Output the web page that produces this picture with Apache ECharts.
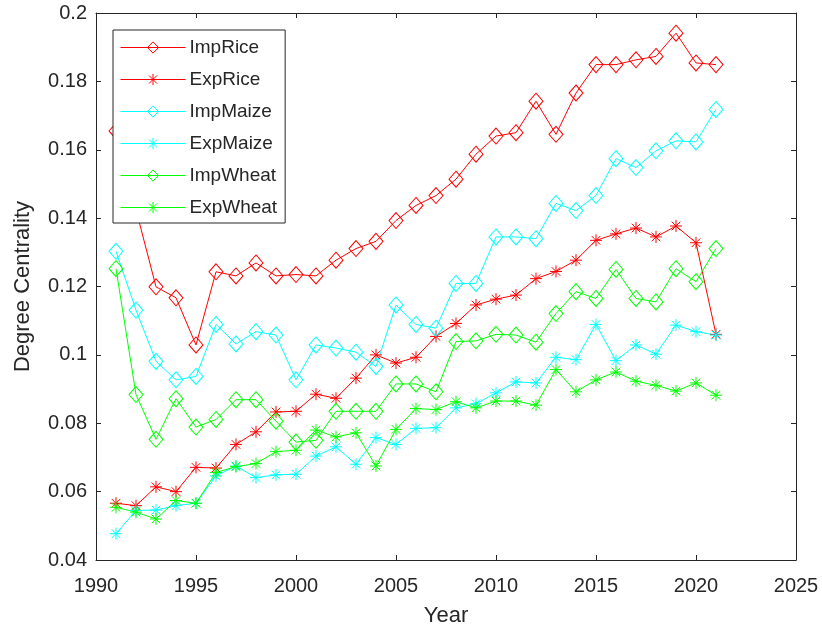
<!DOCTYPE html>
<html>
<head>
<meta charset="utf-8">
<script src="https://cdn.jsdelivr.net/npm/echarts@6/dist/echarts.min.js"></script>
<style>
  html, body { margin: 0; padding: 0; background: #fff; }
  #chart { width: 822px; height: 632px; }
</style>
</head>
<body>
<div id="chart"></div>
<script>
// Years covered by the degree-centrality series
const years = [1991,1992,1993,1994,1995,1996,1997,1998,1999,2000,2001,2002,2003,2004,2005,2006,2007,2008,2009,2010,2011,2012,2013,2014,2015,2016,2017,2018,2019,2020,2021];

const impRice  = [0.1655,0.1425,0.1199,0.1167,0.1029,0.1243,0.1231,0.1269,0.1231,0.1235,0.1231,0.1277,0.1311,0.1332,0.1393,0.1437,0.1466,0.1514,0.1587,0.1640,0.1650,0.1742,0.1645,0.1766,0.1849,0.1849,0.1863,0.1873,0.1941,0.1854,0.1849];
const expRice  = [0.0566,0.0559,0.0614,0.0600,0.0671,0.0669,0.0738,0.0775,0.0833,0.0835,0.0885,0.0873,0.0932,0.1000,0.0976,0.0993,0.1054,0.1092,0.1146,0.1163,0.1175,0.1223,0.1244,0.1277,0.1335,0.1354,0.1371,0.1345,0.1377,0.1328,0.1060];
const impMaize = [0.1303,0.1131,0.0981,0.0927,0.0937,0.1089,0.1032,0.1068,0.1058,0.0927,0.1029,0.1020,0.1008,0.0966,0.1146,0.1089,0.1078,0.1209,0.1209,0.1345,0.1345,0.1340,0.1443,0.1422,0.1466,0.1574,0.1548,0.1597,0.1626,0.1623,0.1718];
const expMaize = [0.0477,0.0545,0.0546,0.0559,0.0566,0.0646,0.0675,0.0641,0.0649,0.0651,0.0704,0.0731,0.0680,0.0758,0.0738,0.0785,0.0787,0.0845,0.0857,0.0889,0.0921,0.0918,0.0993,0.0986,0.1089,0.0983,0.1029,0.1002,0.1087,0.1068,0.1058];
const impWheat = [0.1252,0.0884,0.0753,0.0872,0.0789,0.0811,0.0869,0.0869,0.0806,0.0745,0.0750,0.0835,0.0835,0.0835,0.0915,0.0915,0.0892,0.1039,0.1041,0.1060,0.1058,0.1037,0.1121,0.1185,0.1165,0.1250,0.1165,0.1155,0.1252,0.1214,0.1311];
const expWheat = [0.0554,0.0540,0.0520,0.0574,0.0566,0.0656,0.0673,0.0682,0.0717,0.0721,0.0780,0.0760,0.0772,0.0675,0.0782,0.0843,0.0840,0.0863,0.0845,0.0865,0.0865,0.0853,0.0957,0.0892,0.0927,0.0950,0.0923,0.0911,0.0894,0.0918,0.0882];

const seriesNames = ['ImpRice','ExpRice','ImpMaize','ExpMaize','ImpWheat','ExpWheat'];
const seriesData  = [impRice, expRice, impMaize, expMaize, impWheat, expWheat];

const RED = '#ff0000', CYAN = '#00ffff', GREEN = '#00ff00';
const seriesColors = [RED, RED, CYAN, CYAN, GREEN, GREEN];

// Marker shapes: hollow diamond for imports, eight-point asterisk for exports
const DIAMOND = 'path://M0,-1L0.85,0L0,1L-0.85,0Z';
const STAR = 'path://M0,-1L0,1M-1,0L1,0M-0.72,-0.72L0.72,0.72M-0.72,0.72L0.72,-0.72';

const FONT = '"Liberation Sans", Arial, Helvetica, sans-serif';
const INK = '#262626';

const chart = echarts.init(document.getElementById('chart'), null, { renderer: 'canvas' });

const series = seriesNames.map((name, i) => {
  const isImp = name.startsWith('Imp');
  return {
    name,
    type: 'line',
    data: years.map((y, k) => [y, seriesData[i][k]]),
    symbol: isImp ? DIAMOND : STAR,
    symbolSize: isImp ? [14, 16] : [12, 12],
    showAllSymbol: true,
    animation: false,
    lineStyle: { color: seriesColors[i], width: 1 },
    itemStyle: { color: 'rgba(0,0,0,0)', borderColor: seriesColors[i], borderWidth: 1 },
    emphasis: { disabled: true }
  };
});

const tickStyle = { show: true, inside: true, length: 5, lineStyle: { color: INK, width: 1 } };

chart.setOption({
  backgroundColor: '#fff',
  animation: false,
  grid: { left: 96, right: 26, top: 13, bottom: 69, containLabel: false },
  legend: {
    orient: 'vertical',
    left: 113,
    top: 30,
    width: 172,
    padding: [8, 8, 6, 7],
    itemWidth: 65,
    itemHeight: 14,
    itemGap: 13,
    borderColor: INK,
    borderWidth: 1,
    backgroundColor: '#fff',
    textStyle: { fontFamily: FONT, fontSize: 19, color: INK, padding: [0, 0, 0, -1] },
    data: seriesNames.map((n, i) => ({
      name: n,
      itemStyle: { color: 'rgba(0,0,0,0)', borderColor: seriesColors[i], borderWidth: 1 },
      lineStyle: { color: seriesColors[i], width: 1 }
    }))
  },
  xAxis: [
    {
      type: 'value', min: 1990, max: 2025, interval: 5,
      name: 'Year', nameLocation: 'middle', nameGap: 45,
      nameTextStyle: { fontFamily: FONT, fontSize: 22, color: INK },
      axisLine: { show: true, onZero: false, lineStyle: { color: INK, width: 1 } },
      axisTick: tickStyle,
      axisLabel: { fontFamily: FONT, fontSize: 20, color: INK, margin: 16, formatter: v => String(v) },
      splitLine: { show: false }
    },
    {
      type: 'value', min: 1990, max: 2025, interval: 5, position: 'top',
      axisLine: { show: true, onZero: false, lineStyle: { color: INK, width: 1 } },
      axisTick: tickStyle,
      axisLabel: { show: false },
      splitLine: { show: false }
    }
  ],
  yAxis: [
    {
      type: 'value', min: 0.04, max: 0.2, interval: 0.02,
      name: 'Degree Centrality', nameLocation: 'middle', nameGap: 62,
      nameTextStyle: { fontFamily: FONT, fontSize: 22, color: INK },
      axisLine: { show: true, onZero: false, lineStyle: { color: INK, width: 1 } },
      axisTick: tickStyle,
      axisLabel: {
        fontFamily: FONT, fontSize: 20, color: INK, margin: 9,
        formatter: v => String(parseFloat(v.toFixed(2)))
      },
      splitLine: { show: false }
    },
    {
      type: 'value', min: 0.04, max: 0.2, interval: 0.02, position: 'right',
      axisLine: { show: true, onZero: false, lineStyle: { color: INK, width: 1 } },
      axisTick: tickStyle,
      axisLabel: { show: false },
      splitLine: { show: false }
    }
  ],
  series
});
</script>
</body>
</html>
